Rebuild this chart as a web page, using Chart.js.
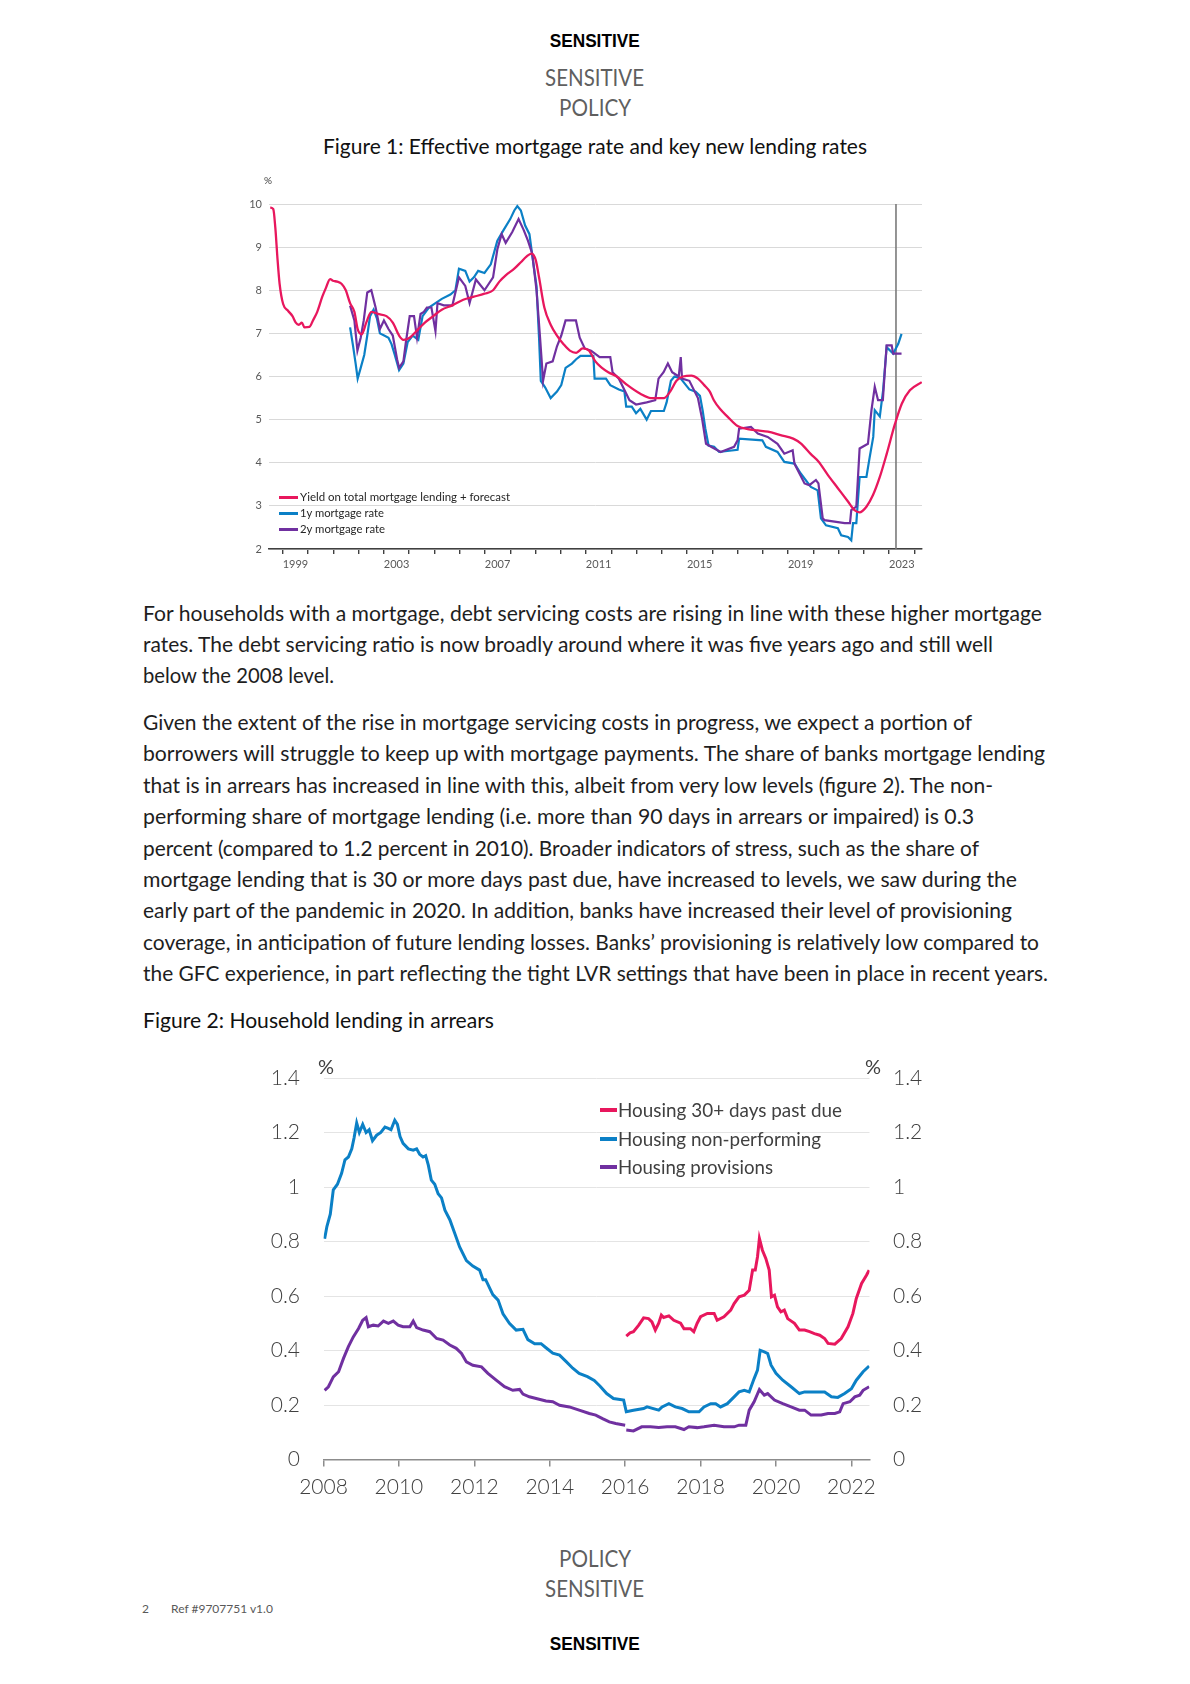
<!DOCTYPE html>
<html>
<head>
<meta charset="utf-8">
<script src="https://cdn.jsdelivr.net/npm/chart.js@4.4.1/dist/chart.umd.min.js"></script>
<style>
body { margin:0; width:1190px; height:1684px; background:#fff; position:relative; overflow:hidden;
       font-family: Lato, "Open Sans", sans-serif; color:#222; }
.t { position:absolute; white-space:nowrap; }
.c { left:0; width:1190px; text-align:center; }
.t span { display:inline-block; }
.c span { transform-origin:center; }
.l span { transform-origin:left; }
.hd { font-size:23px; color:#5f5f5f; line-height:28px; }
.bold { font-family:"Liberation Sans", Arial, sans-serif; font-weight:bold; font-size:17.5px; color:#000; line-height:22px; }
.body { left:143px; font-size:20.5px; line-height:26px; color:#1e1e1e; }
.fig { font-size:21.5px; line-height:26px; color:#111; }
canvas { position:absolute; }
.lg1 { position:absolute; left:279px; font-size:10.5px; color:#262626; line-height:14px; white-space:nowrap; }
.lg1 i { display:inline-block; width:19px; height:3px; vertical-align:middle; margin-right:2px; }
.lg1 span, .lg2 span { display:inline-block; transform-origin:left; vertical-align:middle; }
.lg2 { position:absolute; left:600px; font-size:19px; color:#404040; line-height:24px; white-space:nowrap; }
.lg2 i { display:inline-block; width:17px; height:3.5px; vertical-align:middle; margin-right:1px; }
</style>
</head>
<body>

<div class="t c bold" style="top:30px"><span data-w="90">SENSITIVE</span></div>
<div class="t c hd" style="top:63px"><span data-w="99">SENSITIVE</span></div>
<div class="t c hd" style="top:93px"><span data-w="72">POLICY</span></div>
<div class="t c fig" style="top:133px"><span data-w="544">Figure 1: Effective mortgage rate and key new lending rates</span></div>

<canvas id="c1" width="720" height="420" style="left:220px;top:160px;width:720px;height:420px"></canvas>
<div class="t" style="left:264px;top:174px;font-size:10px;color:#404040">%</div>
<div class="lg1" style="top:489px"><i style="background:#e8175d"></i><span data-w="210">Yield on total mortgage lending + forecast</span></div>
<div class="lg1" style="top:505px"><i style="background:#0b80c6"></i><span data-w="84">1y mortgage rate</span></div>
<div class="lg1" style="top:521px"><i style="background:#7030a0"></i><span data-w="85">2y mortgage rate</span></div>

<div class="t l body" style="top:600px"><span data-w="899">For households with a mortgage, debt servicing costs are rising in line with these higher mortgage</span></div>
<div class="t l body" style="top:631px"><span data-w="850">rates. The debt servicing ratio is now broadly around where it was five years ago and still well</span></div>
<div class="t l body" style="top:662px"><span data-w="191">below the 2008 level.</span></div>

<div class="t l body" style="top:708.7px"><span data-w="829">Given the extent of the rise in mortgage servicing costs in progress, we expect a portion of</span></div>
<div class="t l body" style="top:740.1px"><span data-w="902">borrowers will struggle to keep up with mortgage payments. The share of banks mortgage lending</span></div>
<div class="t l body" style="top:771.6px"><span data-w="850">that is in arrears has increased in line with this, albeit from very low levels (figure 2). The non-</span></div>
<div class="t l body" style="top:803.0px"><span data-w="831">performing share of mortgage lending (i.e. more than 90 days in arrears or impaired) is 0.3</span></div>
<div class="t l body" style="top:834.5px"><span data-w="836">percent (compared to 1.2 percent in 2010). Broader indicators of stress, such as the share of</span></div>
<div class="t l body" style="top:865.9px"><span data-w="874">mortgage lending that is 30 or more days past due, have increased to levels, we saw during the</span></div>
<div class="t l body" style="top:897.4px"><span data-w="869">early part of the pandemic in 2020. In addition, banks have increased their level of provisioning</span></div>
<div class="t l body" style="top:928.8px"><span data-w="896">coverage, in anticipation of future lending losses. Banks’ provisioning is relatively low compared to</span></div>
<div class="t l body" style="top:960.3px"><span data-w="905">the GFC experience, in part reflecting the tight LVR settings that have been in place in recent years.</span></div>

<div class="t l fig" style="left:143px;top:1007px"><span data-w="351">Figure 2: Household lending in arrears</span></div>

<canvas id="c2" width="680" height="480" style="left:260px;top:1040px;width:680px;height:480px"></canvas>
<div class="t" style="left:318px;top:1054px;font-size:20px;color:#404040">%</div>
<div class="t" style="left:865px;top:1054px;font-size:20px;color:#404040">%</div>
<div class="lg2" style="top:1096px"><i style="background:#e8175d"></i><span data-w="224">Housing 30+ days past due</span></div>
<div class="lg2" style="top:1125px"><i style="background:#0b80c6"></i><span data-w="203">Housing non-performing</span></div>
<div class="lg2" style="top:1153px"><i style="background:#7030a0"></i><span data-w="155">Housing provisions</span></div>

<div class="t c hd" style="top:1544px"><span data-w="72">POLICY</span></div>
<div class="t c hd" style="top:1574px"><span data-w="99">SENSITIVE</span></div>
<div class="t" style="left:142px;top:1601px;font-size:12px;color:#595959">2</div>
<div class="t" style="left:171px;top:1601px;font-size:12px;color:#595959">Ref #9707751 v1.0</div>
<div class="t c bold" style="top:1633px"><span data-w="90">SENSITIVE</span></div>

<script>
// ---- Figure 1 data (decimal years) ----
const yieldYears = [1998.50,1998.62,1998.70,1998.79,1998.87,1999.01,1999.21,1999.38,1999.51,1999.63,1999.75,1999.85,2000.05,2000.19,2000.36,2000.56,2000.70,2000.87,2000.98,2001.15,2001.32,2001.49,2001.66,2001.83,2001.96,2002.12,2002.30,2002.50,2002.76,2003.10,2003.35,2003.60,2003.77,2004.02,2004.28,2004.62,2004.95,2005.29,2005.71,2006.14,2006.56,2006.98,2007.32,2007.57,2007.83,2008.16,2008.42,2008.64,2008.84,2009.01,2009.14,2009.35,2009.60,2009.85,2010.11,2010.36,2010.61,2010.87,2011.12,2011.37,2011.63,2011.88,2012.22,2012.64,2013.15,2013.57,2014.08,2014.33,2014.58,2014.84,2015.17,2015.43,2015.68,2015.90,2016.06,2016.30,2016.60,2017.00,2017.40,2017.80,2018.20,2018.70,2019.20,2019.50,2019.90,2020.20,2020.57,2020.97,2021.37,2021.63,2021.83,2022.10,2022.36,2022.63,2022.90,2023.23,2023.50,2023.82,2024.29];
const yieldVals  = [9.92,9.88,9.45,8.70,8.15,7.68,7.52,7.40,7.25,7.20,7.25,7.14,7.15,7.30,7.50,7.85,8.05,8.26,8.22,8.20,8.15,8.00,7.70,7.50,7.10,6.98,7.25,7.50,7.45,7.40,7.25,6.95,6.85,6.90,7.05,7.25,7.40,7.55,7.65,7.78,7.85,7.92,8.00,8.20,8.35,8.50,8.65,8.78,8.85,8.70,8.30,7.60,7.20,6.95,6.75,6.60,6.55,6.65,6.60,6.35,6.20,6.10,6.00,5.80,5.60,5.50,5.50,5.65,5.90,6.00,6.02,5.95,5.80,5.65,5.45,5.25,5.07,4.85,4.78,4.75,4.72,4.64,4.56,4.45,4.20,4.03,3.72,3.41,3.10,2.90,2.85,2.98,3.25,3.67,4.20,4.90,5.37,5.68,5.87];

const oneYrYears = [2001.66,2001.78,2001.88,2001.96,2002.08,2002.22,2002.34,2002.45,2002.59,2002.72,2002.84,2003.01,2003.18,2003.30,2003.43,2003.60,2003.77,2003.94,2004.14,2004.36,2004.53,2004.78,2005.04,2005.29,2005.63,2005.83,2005.97,2006.22,2006.39,2006.56,2006.73,2006.98,2007.23,2007.49,2007.74,2008.00,2008.16,2008.28,2008.42,2008.59,2008.76,2008.92,2009.04,2009.14,2009.21,2009.38,2009.60,2009.85,2010.02,2010.19,2010.44,2010.61,2010.78,2011.29,2011.34,2011.79,2011.96,2012.30,2012.52,2012.59,2012.81,2012.98,2013.15,2013.40,2013.57,2013.82,2014.08,2014.19,2014.36,2014.50,2014.75,2015.09,2015.34,2015.51,2015.62,2015.72,2015.85,2016.07,2016.27,2017.00,2017.06,2017.98,2018.12,2018.58,2018.85,2019.25,2019.50,2019.90,2020.17,2020.30,2020.50,2020.97,2021.10,2021.37,2021.50,2021.57,2021.70,2021.83,2022.10,2022.23,2022.37,2022.43,2022.63,2022.76,2022.90,2023.16,2023.36,2023.49];
const oneYrVals  = [7.14,6.70,6.30,5.95,6.20,6.50,6.95,7.40,7.55,7.35,7.00,6.95,6.90,6.75,6.50,6.15,6.30,6.80,6.95,6.85,7.40,7.60,7.70,7.80,7.90,8.00,8.50,8.45,8.20,8.30,8.45,8.40,8.60,9.15,9.40,9.65,9.85,9.95,9.85,9.50,9.30,8.60,8.10,6.90,5.90,5.75,5.50,5.65,5.80,6.20,6.30,6.40,6.48,6.48,5.95,5.95,5.80,5.70,5.65,5.30,5.30,5.15,5.25,5.00,5.20,5.20,5.20,5.40,5.90,6.00,5.95,5.70,5.65,5.55,5.20,4.80,4.40,4.37,4.25,4.30,4.56,4.52,4.37,4.25,4.02,3.98,3.75,3.44,3.36,2.71,2.55,2.48,2.32,2.28,2.20,2.60,2.60,3.67,3.67,4.13,4.60,5.22,5.07,5.68,6.68,6.53,6.76,6.99];

const twoYrYears = [2001.66,2001.83,2001.95,2002.08,2002.20,2002.34,2002.50,2002.67,2002.84,2003.00,2003.18,2003.35,2003.52,2003.60,2003.77,2003.87,2004.02,2004.19,2004.31,2004.45,2004.58,2004.70,2004.88,2005.04,2005.12,2005.37,2005.71,2005.97,2006.22,2006.39,2006.64,2006.98,2007.32,2007.49,2007.66,2007.82,2008.08,2008.33,2008.53,2008.70,2008.87,2009.04,2009.18,2009.30,2009.43,2009.68,2009.85,2010.02,2010.19,2010.44,2010.60,2010.75,2010.95,2011.20,2011.54,2011.96,2012.05,2012.30,2012.55,2012.72,2012.98,2013.40,2013.74,2013.87,2014.07,2014.24,2014.41,2014.67,2014.75,2014.80,2015.09,2015.43,2015.60,2015.75,2015.95,2016.33,2016.86,2017.00,2017.06,2017.53,2017.80,2018.19,2018.58,2018.85,2019.18,2019.25,2019.65,2019.84,2020.10,2020.20,2020.37,2020.44,2021.24,2021.45,2021.50,2021.70,2021.83,2022.16,2022.30,2022.43,2022.56,2022.75,2022.83,2022.90,2023.10,2023.16,2023.49];
const twoYrVals  = [7.64,7.30,6.60,6.90,7.30,7.95,8.00,7.60,7.10,7.30,7.10,6.95,6.40,6.20,6.35,6.80,7.40,7.40,6.90,7.45,7.50,7.60,7.60,7.05,7.70,7.65,7.65,8.30,8.10,7.70,8.25,8.00,8.30,8.95,9.30,9.10,9.35,9.65,9.40,9.15,8.85,8.00,6.90,5.90,6.30,6.35,6.70,6.95,7.30,7.30,7.30,6.90,6.65,6.60,6.45,6.45,6.10,5.95,5.65,5.45,5.35,5.40,5.45,5.95,6.10,6.30,6.10,6.00,6.45,5.95,5.90,5.50,5.00,4.44,4.37,4.25,4.37,4.52,4.79,4.83,4.68,4.60,4.44,4.21,4.29,3.98,3.52,3.48,3.60,3.52,2.71,2.67,2.60,2.60,2.90,2.98,4.33,4.44,5.22,5.76,5.45,5.45,6.14,6.72,6.72,6.53,6.53];

const latestDataYear = 2023.27;
const fig1YearLabels = [1999, 2003, 2007, 2011, 2015, 2019, 2023];

// ---- Figure 2 data (decimal years, percent) ----
const pastDueYears = [2016.03,2016.13,2016.22,2016.36,2016.49,2016.62,2016.71,2016.80,2016.89,2016.96,2017.02,2017.16,2017.29,2017.47,2017.56,2017.73,2017.82,2017.91,2018.00,2018.18,2018.36,2018.44,2018.62,2018.80,2018.89,2019.02,2019.16,2019.29,2019.38,2019.45,2019.51,2019.56,2019.64,2019.73,2019.82,2019.88,2019.96,2020.04,2020.13,2020.22,2020.31,2020.49,2020.62,2020.76,2020.89,2021.02,2021.16,2021.29,2021.38,2021.56,2021.73,2021.91,2022.04,2022.13,2022.27,2022.40,2022.47];
const pastDueVals  = [0.453,0.465,0.469,0.493,0.520,0.517,0.505,0.475,0.500,0.530,0.521,0.527,0.511,0.500,0.480,0.480,0.469,0.500,0.524,0.536,0.536,0.511,0.524,0.548,0.572,0.597,0.603,0.621,0.695,0.695,0.744,0.811,0.768,0.738,0.695,0.597,0.603,0.560,0.542,0.548,0.517,0.500,0.475,0.475,0.469,0.462,0.456,0.444,0.426,0.423,0.444,0.487,0.536,0.591,0.646,0.676,0.695];

const nonPerfYears = [2008.03,2008.09,2008.18,2008.26,2008.37,2008.48,2008.57,2008.66,2008.75,2008.81,2008.88,2008.95,2009.04,2009.13,2009.21,2009.30,2009.41,2009.52,2009.63,2009.72,2009.79,2009.89,2009.96,2010.03,2010.11,2010.25,2010.38,2010.47,2010.55,2010.64,2010.71,2010.78,2010.86,2010.95,2011.04,2011.13,2011.22,2011.35,2011.48,2011.61,2011.79,2011.96,2012.14,2012.23,2012.30,2012.49,2012.63,2012.76,2012.93,2013.11,2013.29,2013.42,2013.60,2013.77,2013.90,2014.08,2014.26,2014.43,2014.61,2014.78,2015.00,2015.18,2015.33,2015.51,2015.69,2015.96,2016.03,2016.22,2016.49,2016.58,2016.89,2016.98,2017.16,2017.33,2017.51,2017.69,2017.96,2018.09,2018.27,2018.40,2018.53,2018.71,2018.89,2019.02,2019.16,2019.29,2019.42,2019.51,2019.58,2019.69,2019.78,2019.87,2020.00,2020.18,2020.40,2020.62,2020.76,2021.02,2021.29,2021.47,2021.64,2021.82,2022.00,2022.13,2022.31,2022.47];
const nonPerfVals  = [0.810,0.855,0.900,0.990,1.010,1.050,1.100,1.110,1.140,1.180,1.235,1.200,1.230,1.200,1.210,1.170,1.190,1.200,1.220,1.215,1.210,1.245,1.230,1.185,1.160,1.140,1.135,1.140,1.120,1.110,1.115,1.080,1.025,1.010,0.975,0.960,0.915,0.880,0.830,0.780,0.730,0.710,0.695,0.660,0.660,0.605,0.585,0.535,0.500,0.475,0.478,0.440,0.425,0.425,0.410,0.390,0.383,0.360,0.335,0.316,0.304,0.290,0.270,0.242,0.224,0.218,0.175,0.181,0.187,0.193,0.181,0.193,0.205,0.193,0.187,0.175,0.175,0.193,0.205,0.205,0.193,0.205,0.230,0.248,0.254,0.248,0.297,0.328,0.401,0.395,0.389,0.346,0.316,0.291,0.267,0.242,0.248,0.248,0.248,0.230,0.228,0.242,0.260,0.291,0.322,0.343];

const provYears = [2008.03,2008.13,2008.26,2008.40,2008.53,2008.66,2008.79,2008.93,2009.04,2009.13,2009.19,2009.32,2009.45,2009.59,2009.72,2009.85,2009.98,2010.11,2010.29,2010.38,2010.47,2010.64,2010.82,2011.00,2011.17,2011.35,2011.52,2011.66,2011.79,2011.96,2012.19,2012.36,2012.58,2012.80,2013.02,2013.20,2013.29,2013.46,2013.64,2013.90,2014.08,2014.26,2014.52,2014.78,2015.05,2015.22,2015.40,2015.58,2015.75,2016.00,2016.01,2016.03,2016.22,2016.44,2016.67,2016.89,2017.11,2017.33,2017.56,2017.69,2017.91,2018.09,2018.36,2018.62,2018.89,2019.02,2019.20,2019.29,2019.42,2019.56,2019.69,2019.78,2019.96,2020.18,2020.40,2020.62,2020.76,2020.93,2021.20,2021.38,2021.56,2021.69,2021.78,2021.96,2022.09,2022.22,2022.31,2022.47];
const provVals  = [0.254,0.267,0.303,0.322,0.371,0.414,0.450,0.481,0.511,0.521,0.487,0.493,0.490,0.508,0.500,0.508,0.493,0.487,0.487,0.508,0.484,0.475,0.469,0.444,0.438,0.420,0.408,0.389,0.358,0.346,0.340,0.316,0.291,0.267,0.254,0.257,0.240,0.230,0.224,0.215,0.212,0.199,0.193,0.181,0.169,0.163,0.150,0.138,0.132,0.126,null,0.108,0.105,0.120,0.120,0.117,0.120,0.120,0.110,0.120,0.117,0.120,0.126,0.120,0.120,0.126,0.126,0.181,0.212,0.257,0.236,0.242,0.218,0.205,0.193,0.181,0.181,0.163,0.163,0.169,0.169,0.175,0.205,0.212,0.230,0.236,0.254,0.267];

const PINK = '#e8175d', BLUE = '#0b80c6', PURPLE = '#7030a0';

function pts(xs, ys) { return xs.map((x, i) => ({ x: x, y: ys[i] })); }

function fitText() {
  // squeeze each text run horizontally to the width measured on the page
  document.querySelectorAll('[data-w]').forEach(s => {
    const w = s.getBoundingClientRect().width;
    s.style.transform = 'scaleX(' + (parseFloat(s.dataset.w) / w) + ')';
  });
}

function drawFig1() {
  new Chart(document.getElementById('c1'), {
    type: 'line',
    data: {
      datasets: [
        { data: pts(yieldYears, yieldVals), borderColor: PINK, borderWidth: 2.3, pointRadius: 0, cubicInterpolationMode: 'monotone' },
        { data: pts(twoYrYears, twoYrVals), borderColor: PURPLE, borderWidth: 2.2, pointRadius: 0, tension: 0 },
        { data: pts(oneYrYears, oneYrVals), borderColor: BLUE, borderWidth: 2.2, pointRadius: 0, tension: 0 },
        { data: [{ x: latestDataYear, y: 2 }, { x: latestDataYear, y: 10 }], borderColor: '#7a7a7a', borderWidth: 1.6, pointRadius: 0 }
      ]
    },
    options: {
      responsive: false, animation: false,
      layout: { padding: { top: 44, right: 18, left: 0, bottom: 0 } },
      plugins: { legend: { display: false }, tooltip: { enabled: false } },
      scales: {
        x: {
          type: 'linear', min: 1998.45, max: 2024.3,
          afterBuildTicks: s => { const t = []; for (let y = 1999; y <= 2024; y++) t.push({ value: y }); s.ticks = t; },
          ticks: {
            autoSkip: false, maxRotation: 0, labelOffset: 12.6, padding: 4,
            color: '#595959', font: { size: 11, family: 'Lato' },
            callback: v => fig1YearLabels.includes(v) ? String(v) : ''
          },
          grid: { drawOnChartArea: false, drawTicks: true, tickLength: 5, color: '#404040', lineWidth: 1.4 },
          border: { color: '#404040', width: 1.5 },
          afterFit: s => { s.height = 31; }
        },
        y: {
          min: 2, max: 10,
          ticks: { stepSize: 1, color: '#595959', font: { size: 11, family: 'Lato' }, padding: 7 },
          grid: { color: '#d9d9d9', drawTicks: false, lineWidth: 1 },
          border: { display: false },
          afterFit: s => { s.width = 49; }
        }
      }
    }
  });
}

function drawFig2() {
  const tickFont = { size: 21, family: 'Lato', weight: 300 };
  const pctLabel = v => String(Math.round(v * 10) / 10);
  new Chart(document.getElementById('c2'), {
    type: 'line',
    data: {
      datasets: [
        { data: pts(pastDueYears, pastDueVals), borderColor: PINK, borderWidth: 3, pointRadius: 0, tension: 0 },
        { data: pts(nonPerfYears, nonPerfVals), borderColor: BLUE, borderWidth: 3, pointRadius: 0, tension: 0 },
        { data: pts(provYears, provVals), borderColor: PURPLE, borderWidth: 3, pointRadius: 0, tension: 0, spanGaps: false }
      ]
    },
    options: {
      responsive: false, animation: false,
      layout: { padding: { top: 38, right: 0, left: 0, bottom: 0 } },
      plugins: { legend: { display: false }, tooltip: { enabled: false } },
      scales: {
        x: {
          type: 'linear', min: 2008, max: 2022.48,
          afterBuildTicks: s => { const t = []; for (let y = 2008; y <= 2022; y += 2) t.push({ value: y }); s.ticks = t; },
          ticks: { autoSkip: false, maxRotation: 0, padding: 8, color: '#404040', font: tickFont, callback: v => String(v) },
          grid: { drawOnChartArea: false, drawTicks: true, tickLength: 7, color: '#8c8c8c', lineWidth: 1.5 },
          border: { color: '#8c8c8c', width: 1.5 },
          afterFit: s => { s.height = 60.5; }
        },
        y: {
          position: 'left', min: 0, max: 1.4,
          ticks: { stepSize: 0.2, padding: 23.5, color: '#404040', font: tickFont, callback: pctLabel },
          grid: { color: '#e4e4e4', drawTicks: false, lineWidth: 1 },
          border: { display: false },
          afterFit: s => { s.width = 63.5; }
        },
        y2: {
          position: 'right', min: 0, max: 1.4,
          ticks: { stepSize: 0.2, padding: 23.5, color: '#404040', font: tickFont, callback: pctLabel },
          grid: { display: false, drawTicks: false },
          border: { display: false },
          afterFit: s => { s.width = 70.5; }
        }
      }
    }
  });
}

document.fonts.ready.then(() => {
  fitText();
  drawFig1();
  drawFig2();
});
</script>
</body>
</html>
